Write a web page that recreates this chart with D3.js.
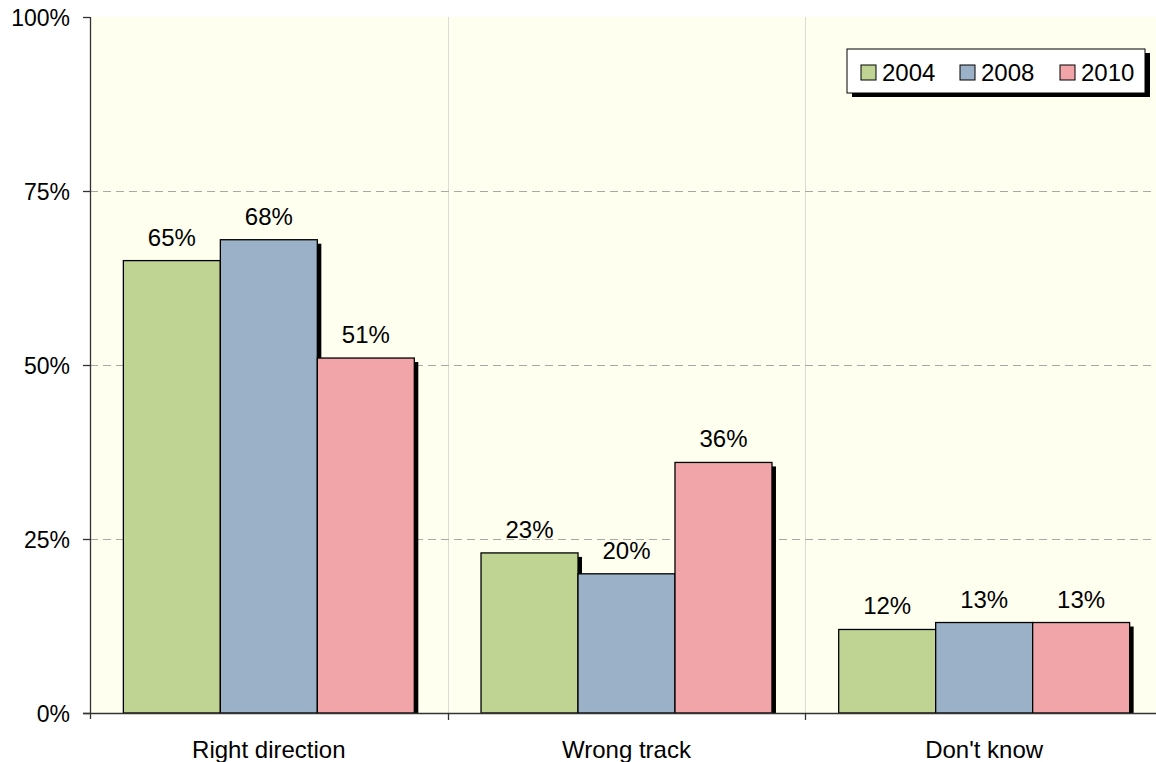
<!DOCTYPE html>
<html>
<head>
<meta charset="utf-8">
<script src="https://cdn.jsdelivr.net/npm/d3@7"></script>
<style>
  html, body { margin: 0; padding: 0; background: #ffffff; }
  svg { display: block; font-family: "Liberation Sans", Arial, sans-serif; }
</style>
</head>
<body>
<svg id="chart" width="1156" height="762"></svg>
<script>
// Survey responses by year
const categories = ["Right direction", "Wrong track", "Don't know"];
const years = ["2004", "2008", "2010"];
const values2004 = [65, 23, 12];
const values2008 = [68, 20, 13];
const values2010 = [51, 36, 13];
const yTicks = [0, 25, 50, 75, 100];
const colors = ["#BFD493", "#9BB1C8", "#F2A5A8"];

const series = [values2004, values2008, values2010];

const svg = d3.select("#chart");
const margin = { left: 90, top: 17, bottom: 49 };
const plotW = 1073;
const plotH = 762 - margin.top - margin.bottom;

const x0 = d3.scaleBand().domain(categories).range([0, plotW]).paddingInner(0).paddingOuter(0);
const x1 = d3.scaleBand().domain(years).range([0, x0.bandwidth()]).paddingInner(0).paddingOuter(0.344);
const y = d3.scaleLinear().domain([0, 100]).range([plotH, 0]);

const g = svg.append("g").attr("transform", `translate(${margin.left},${margin.top})`);

// plot background
g.append("rect").attr("x", 0).attr("y", 0).attr("width", plotW).attr("height", plotH).attr("fill", "#FFFFF0");

// vertical separators between categories
g.selectAll("line.vsep").data(categories.slice(1)).enter().append("line")
  .attr("x1", d => Math.round(x0(d)) + 0.5).attr("x2", d => Math.round(x0(d)) + 0.5)
  .attr("y1", 0).attr("y2", plotH)
  .attr("stroke", "#DCDCD4").attr("stroke-width", 1);

// horizontal dashed gridlines
g.selectAll("line.hgrid").data(yTicks.filter(t => t > 0 && t < 100)).enter().append("line")
  .attr("x1", 0).attr("x2", plotW)
  .attr("y1", d => Math.round(y(d)) + 0.5).attr("y2", d => Math.round(y(d)) + 0.5)
  .attr("stroke", "#A8A8A8").attr("stroke-width", 1).attr("stroke-dasharray", "8,5");

// bars with drop shadows
const groups = g.selectAll("g.cat").data(categories).enter().append("g")
  .attr("transform", d => `translate(${x0(d)},0)`);

groups.each(function (cat, ci) {
  const grp = d3.select(this);
  const data = years.map((yr, si) => ({ yr, v: series[si][ci], si }));
  grp.selectAll("rect.shadow").data(data).enter().append("rect")
    .attr("x", d => x1(d.yr) + 4).attr("y", d => y(d.v) + 4)
    .attr("width", x1.bandwidth()).attr("height", d => plotH - y(d.v) - 4)
    .attr("fill", "#000");
  grp.selectAll("rect.bar").data(data).enter().append("rect")
    .attr("x", d => x1(d.yr)).attr("y", d => y(d.v))
    .attr("width", x1.bandwidth()).attr("height", d => plotH - y(d.v))
    .attr("fill", d => colors[d.si]).attr("stroke", "#000").attr("stroke-width", 1.3);
  grp.selectAll("text.val").data(data).enter().append("text")
    .attr("x", d => x1(d.yr) + x1.bandwidth() / 2)
    .attr("y", d => y(d.v) - 15)
    .attr("text-anchor", "middle").attr("font-size", 24).attr("fill", "#000")
    .text(d => d.v + "%");
});

// left axis line
g.append("line").attr("x1", 0.5).attr("x2", 0.5).attr("y1", 0).attr("y2", plotH + 6)
  .attr("stroke", "#333").attr("stroke-width", 1.3);
// bottom axis line
g.append("line").attr("x1", -7).attr("x2", plotW).attr("y1", plotH + 0.5).attr("y2", plotH + 0.5)
  .attr("stroke", "#333").attr("stroke-width", 1.3);

// y ticks and labels
g.selectAll("line.ytick").data(yTicks).enter().append("line")
  .attr("x1", -7).attr("x2", 0).attr("y1", d => y(d) + 0.5).attr("y2", d => y(d) + 0.5)
  .attr("stroke", "#333").attr("stroke-width", 1.3);
g.selectAll("text.ylab").data(yTicks).enter().append("text")
  .attr("x", -20).attr("y", d => y(d) + 9)
  .attr("text-anchor", "end").attr("font-size", 23).attr("fill", "#000")
  .text(d => d + "%");

// x ticks at category boundaries
g.selectAll("line.xtick").data(categories.slice(1)).enter().append("line")
  .attr("x1", d => Math.round(x0(d)) + 0.5).attr("x2", d => Math.round(x0(d)) + 0.5)
  .attr("y1", plotH).attr("y2", plotH + 7)
  .attr("stroke", "#333").attr("stroke-width", 1.3);
g.selectAll("text.xlab").data(categories).enter().append("text")
  .attr("x", d => x0(d) + x0.bandwidth() / 2).attr("y", plotH + 45)
  .attr("text-anchor", "middle").attr("font-size", 24).attr("fill", "#000")
  .text(d => d);

// legend
const lg = svg.append("g").attr("transform", "translate(847,49)");
lg.append("rect").attr("x", 5).attr("y", 4).attr("width", 298).attr("height", 44).attr("fill", "#000");
lg.append("rect").attr("x", 0).attr("y", 0).attr("width", 298).attr("height", 44)
  .attr("fill", "#fff").attr("stroke", "#000").attr("stroke-width", 1);
const legX = [14, 113, 213];
years.forEach((yr, i) => {
  lg.append("rect").attr("x", legX[i]).attr("y", 16).attr("width", 15).attr("height", 15)
    .attr("fill", colors[i]).attr("stroke", "#000").attr("stroke-width", 1);
  lg.append("text").attr("x", legX[i] + 21).attr("y", 32).attr("font-size", 24).attr("fill", "#000").text(yr);
});
</script>
</body>
</html>
